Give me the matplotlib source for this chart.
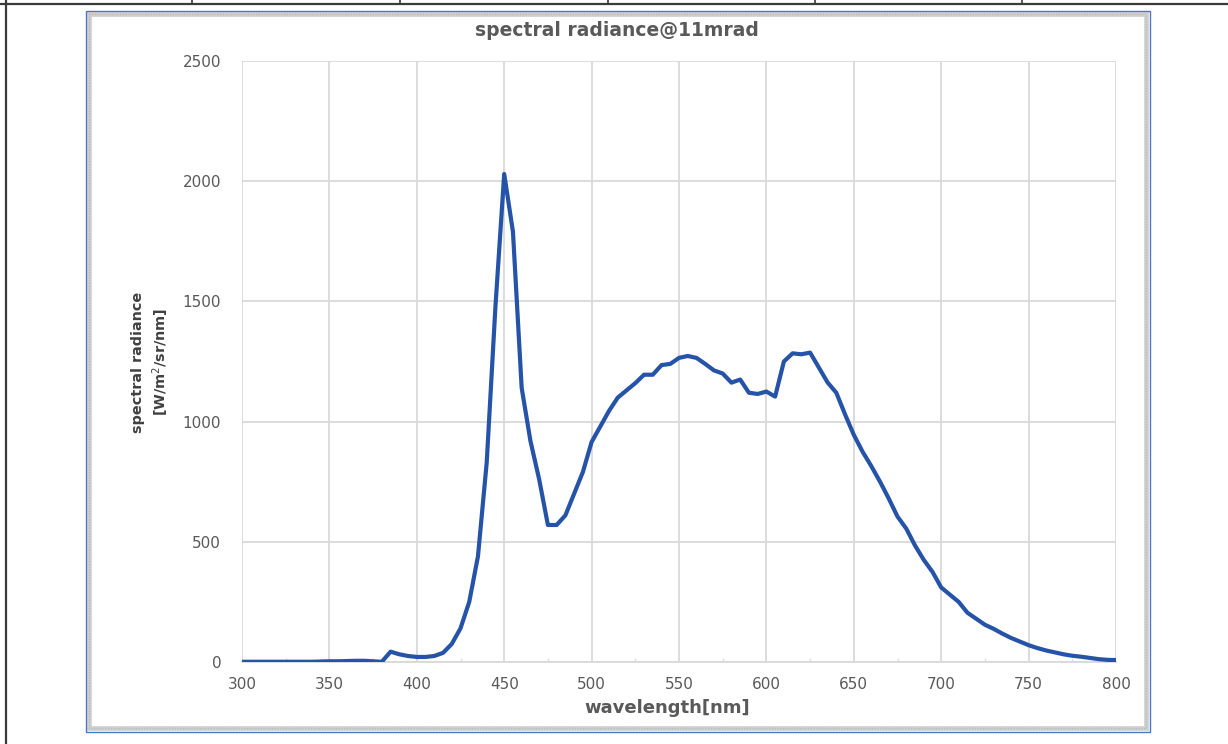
import matplotlib
matplotlib.use("Agg")
import matplotlib.pyplot as plt
from matplotlib.patches import Rectangle
from matplotlib.lines import Line2D
from matplotlib.ticker import MultipleLocator

wavelength = list(range(300, 805, 5))
radiance = [
    1, 1, 1, 1, 1, 1, 1, 1, 1, 2,          # 300-345
    3, 3, 4, 5, 5, 3, 1, 43, 32, 25,       # 350-395
    21, 21, 25, 38, 75, 140, 250, 440, 830, 1480,   # 400-445
    2030, 1790, 1140, 920, 760, 570, 570, 610, 700, 790,  # 450-495
    915, 980, 1045, 1100, 1130, 1160, 1195, 1195, 1235, 1240,  # 500-545
    1265, 1273, 1265, 1240, 1213, 1200, 1162, 1175, 1120, 1115,  # 550-595
    1125, 1104, 1250, 1284, 1280, 1287, 1225, 1163, 1120, 1030,  # 600-645
    945, 875, 815, 750, 680, 605, 555, 485, 425, 375,  # 650-695
    310, 280, 250, 205, 180, 155, 138, 118, 100, 85,   # 700-745
    70, 58, 48, 40, 32, 26, 22, 17, 12, 9,             # 750-795
    8,                                                  # 800
]

title = "spectral radiance@11mrad"
xlabel = "wavelength[nm]"
ylabel = "spectral radiance\n[W/m$^2$/sr/nm]"

W, H = 1228, 744
fig = plt.figure(figsize=(W / 100, H / 100), dpi=100)
fig.patch.set_facecolor("white")

# background canvas in pixel coordinates
bg = fig.add_axes([0, 0, 1, 1])
bg.set_xlim(0, W)
bg.set_ylim(H, 0)
bg.axis("off")

# document table lines
bg.add_line(Line2D([0, W], [3.5, 3.5], color="#3a3a3a", lw=1.6))
bg.add_line(Line2D([6, 6], [0, H], color="#3a3a3a", lw=1.6))
for xv in [192, 400, 608, 815, 1022]:
    bg.add_line(Line2D([xv, xv], [0, 3.5], color="#3a3a3a", lw=1.2))

# chart frame
bg.add_patch(Rectangle((88.5, 13.5), 1057, 714, fill=False,
                       edgecolor="#cfcfcf", lw=3.4))
bg.add_patch(Rectangle((88.5, 13.5), 1057, 714, fill=False,
                       edgecolor="#b5b5b5", lw=0.8, linestyle=(0, (1, 1.5))))
bg.add_patch(Rectangle((85.5, 10.5), 1064, 721.5, fill=False,
                       edgecolor="#4a78c8", lw=1.0))

ax = fig.add_axes([242 / W, 1 - 662 / H, 874 / W, 601 / H])
ax.set_facecolor("none")
ax.plot(wavelength, radiance, color="#2453a8", lw=3.0, solid_joinstyle="round",
        zorder=3)

ax.set_xlim(300, 800)
ax.set_ylim(0, 2500)
ax.xaxis.set_major_locator(MultipleLocator(50))
ax.xaxis.set_minor_locator(MultipleLocator(25))
ax.yaxis.set_major_locator(MultipleLocator(500))
ax.grid(True, which="major", color="#d9d9d9", lw=1.3)
ax.set_axisbelow(True)
for s in ["top", "right", "left"]:
    ax.spines[s].set_visible(False)
ax.spines["bottom"].set_color("#d9d9d9")
ax.spines["bottom"].set_linewidth(1.3)

ax.tick_params(axis="both", which="major", length=0, labelsize=11,
               labelcolor="#595959")
ax.tick_params(axis="x", which="major", pad=11)
ax.tick_params(axis="y", which="major", pad=15)
ax.tick_params(axis="x", which="minor", direction="in", length=3,
               color="#e0e0e0", width=1.0)
ax.tick_params(axis="y", which="minor", length=0)

fig.text(617 / W, 1 - 31 / H, title, ha="center", va="center",
         fontsize=13.5, fontweight="bold", color="#595959")
fig.text(667 / W, 1 - 708 / H, xlabel, ha="center", va="center",
         fontsize=13, fontweight="bold", color="#595959")
fig.text(151 / W, 1 - 362 / H, ylabel, ha="center", va="center",
         rotation=90, fontsize=10.4, fontweight="bold", color="#404040",
         linespacing=1.35, multialignment="center")

fig.savefig("out.png", dpi=100)
